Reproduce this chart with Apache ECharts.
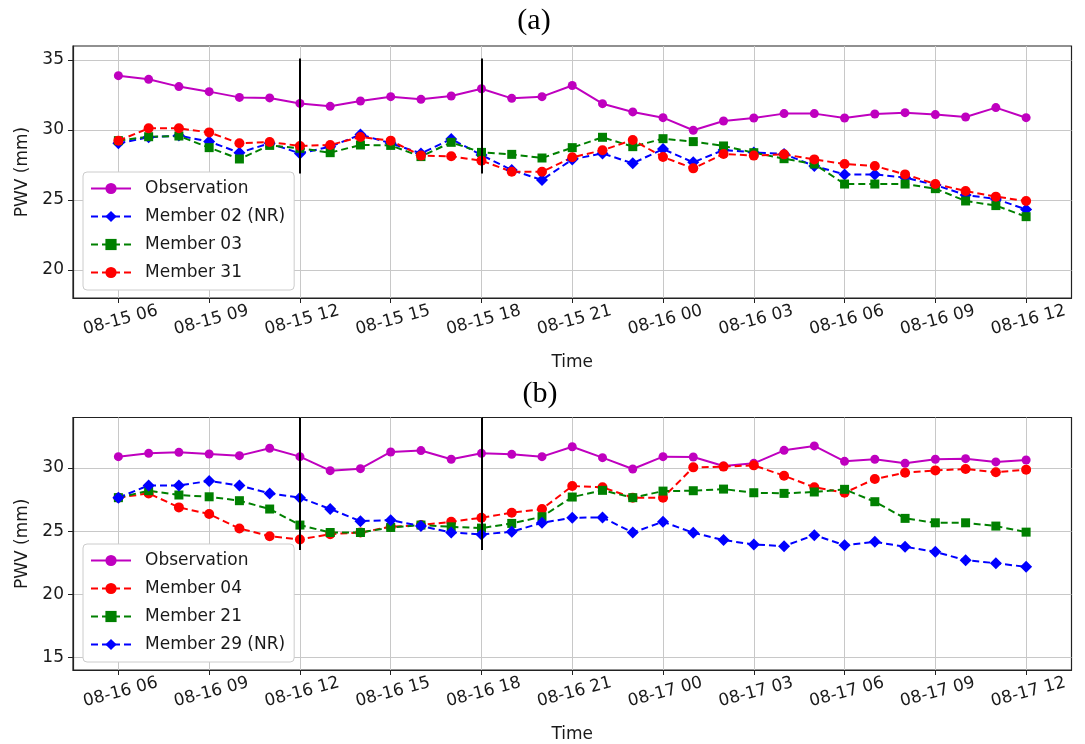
<!DOCTYPE html>
<html>
<head>
<meta charset="utf-8">
<title>PWV time series</title>
<script src="https://cdn.jsdelivr.net/npm/echarts@6/dist/echarts.min.js"></script>
<style>
  html, body { margin: 0; padding: 0; background: #ffffff; }
  #chart { width: 1085px; height: 744px; }
</style>
</head>
<body>
<div id="chart"></div>
<script>
// Hours since the first sample of each panel (hourly samples)
const hours = [0, 1, 2, 3, 4, 5, 6, 7, 8, 9, 10, 11, 12, 13, 14, 15,
               16, 17, 18, 19, 20, 21, 22, 23, 24, 25, 26, 27, 28, 29, 30];

// Tick positions (hours) and their labels
const tickHours = [0, 3, 6, 9, 12, 15, 18, 21, 24, 27, 30];
const tickLabelsA = ['08-15 06', '08-15 09', '08-15 12', '08-15 15', '08-15 18', '08-15 21',
                     '08-16 00', '08-16 03', '08-16 06', '08-16 09', '08-16 12'];
const tickLabelsB = ['08-16 06', '08-16 09', '08-16 12', '08-16 15', '08-16 18', '08-16 21',
                     '08-17 00', '08-17 03', '08-17 06', '08-17 09', '08-17 12'];
const yTicksA = [20, 25, 30, 35];
const yTicksB = [15, 20, 25, 30];

// Panel (a): PWV (mm)
const obsA = [33.88, 33.62, 33.10, 32.74, 32.33, 32.29, 31.90, 31.69, 32.07, 32.38, 32.19,
              32.43, 32.95, 32.26, 32.38, 33.18, 31.88, 31.29, 30.88, 29.98, 30.64, 30.86,
              31.17, 31.17, 30.86, 31.14, 31.24, 31.10, 30.93, 31.60, 30.88];
const mem02A = [29.05, 29.48, 29.60, 29.17, 28.38, 29.05, 28.33, 28.81, 29.67, 29.05, 28.33,
                29.36, 28.21, 27.14, 26.43, 27.90, 28.33, 27.62, 28.64, 27.69, 28.57, 28.40,
                28.29, 27.43, 26.83, 26.83, 26.60, 26.07, 25.36, 25.07, 24.33];
const mem03A = [29.24, 29.52, 29.57, 28.74, 27.93, 28.90, 28.69, 28.38, 28.93, 28.90, 28.10,
                29.12, 28.40, 28.26, 28.00, 28.74, 29.48, 28.81, 29.38, 29.17, 28.86, 28.38,
                27.95, 27.57, 26.14, 26.14, 26.14, 25.81, 24.93, 24.60, 23.81];
const mem31A = [29.24, 30.12, 30.12, 29.83, 29.05, 29.14, 28.86, 28.93, 29.50, 29.24, 28.17,
                28.12, 27.81, 27.02, 27.02, 28.05, 28.55, 29.29, 28.07, 27.26, 28.29, 28.17,
                28.26, 27.90, 27.57, 27.43, 26.83, 26.14, 25.64, 25.24, 24.93];

// Panel (b): PWV (mm)
const obsB = [30.90, 31.16, 31.24, 31.11, 30.98, 31.56, 30.90, 29.79, 29.95, 31.27, 31.38,
              30.69, 31.16, 31.08, 30.90, 31.68, 30.82, 29.92, 30.90, 30.87, 30.16, 30.37,
              31.40, 31.75, 30.53, 30.69, 30.37, 30.69, 30.74, 30.48, 30.63];
const mem04B = [27.65, 27.99, 26.88, 26.35, 25.21, 24.60, 24.34, 24.76, 24.89, 25.34, 25.48,
                25.74, 26.06, 26.46, 26.75, 28.57, 28.47, 27.65, 27.65, 30.05, 30.11, 30.21,
                29.39, 28.47, 28.04, 29.13, 29.63, 29.81, 29.92, 29.66, 29.87];
const mem21B = [27.65, 28.20, 27.86, 27.72, 27.41, 26.75, 25.48, 24.89, 24.89, 25.29, 25.48,
                25.34, 25.24, 25.61, 26.14, 27.70, 28.23, 27.65, 28.17, 28.20, 28.33, 28.04,
                27.99, 28.10, 28.31, 27.33, 26.01, 25.66, 25.66, 25.40, 24.92];
const mem29B = [27.65, 28.62, 28.62, 28.97, 28.62, 27.99, 27.65, 26.75, 25.79, 25.87, 25.40,
                24.89, 24.74, 24.95, 25.66, 26.06, 26.08, 24.89, 25.74, 24.87, 24.29, 23.94,
                23.81, 24.68, 23.89, 24.15, 23.76, 23.36, 22.70, 22.46, 22.17];

// Vertical marker lines: hour positions and their vertical extent (mm)
const markHours = [6, 12];
const markSpanA = [26.9, 35.1];
const markSpanB = [23.5, 34];

const FONT = 'DejaVu Sans';
const TXT = '#1a1a1a';

const styles = {
  obs:   { color: '#bf00bf', symbol: 'circle',  size: 9,  dash: 'solid' },
  red:   { color: '#ff0000', symbol: 'circle',  size: 10, dash: [7, 4] },
  green: { color: '#008000', symbol: 'rect',    size: 9,  dash: [7, 4] },
  blue:  { color: '#0000ff', symbol: 'diamond', size: 12, dash: [7, 4] }
};

function lineSeries(name, values, st, idx) {
  return {
    name: name,
    type: 'line',
    xAxisIndex: idx,
    yAxisIndex: idx,
    data: values.map((v, i) => [hours[i], v]),
    symbol: st.symbol,
    symbolSize: st.size,
    showSymbol: true,
    itemStyle: { color: st.color, borderWidth: 0 },
    lineStyle: { color: st.color, width: 2, type: st.dash },
    emphasis: { disabled: true },
    animation: false
  };
}

function markerSeries(idx, span) {
  return {
    type: 'line',
    xAxisIndex: idx,
    yAxisIndex: idx,
    data: [],
    silent: true,
    animation: false,
    markLine: {
      silent: true,
      symbol: ['none', 'none'],
      label: { show: false },
      lineStyle: { color: '#000000', width: 2, type: 'solid' },
      data: markHours.map(h => [{ coord: [h, span[0]] }, { coord: [h, span[1]] }])
    }
  };
}

function xAxis(idx, labels) {
  return {
    type: 'value',
    gridIndex: idx,
    min: -1.5,
    max: 31.5,
    name: 'Time',
    nameLocation: 'middle',
    nameGap: 56,
    nameTextStyle: { fontFamily: FONT, fontSize: 17, color: TXT },
    axisLine: { show: true, onZero: false, lineStyle: { color: '#222', width: 1.2 } },
    axisTick: { show: true, customValues: tickHours, length: 5, lineStyle: { color: '#222' } },
    axisLabel: {
      customValues: tickHours,
      formatter: v => labels[tickHours.indexOf(v)] || '',
      rotate: 15,
      align: 'center',
      verticalAlign: 'top',
      margin: 14,
      fontFamily: FONT,
      fontSize: 17,
      color: TXT
    },
    splitLine: { show: true, lineStyle: { color: '#c8c8c8', width: 1 } }
  };
}

function yAxis(idx, min, max, ticks) {
  return {
    type: 'value',
    gridIndex: idx,
    min: min,
    max: max,
    name: 'PWV (mm)',
    nameLocation: 'middle',
    nameGap: 37,
    nameTextStyle: { fontFamily: FONT, fontSize: 17, color: TXT },
    axisLine: { show: true, onZero: false, lineStyle: { color: '#222', width: 1.2 } },
    axisTick: { show: true, customValues: ticks, length: 5, lineStyle: { color: '#222' } },
    axisLabel: { customValues: ticks, margin: 9, fontFamily: FONT, fontSize: 17, color: TXT },
    splitLine: { show: true, lineStyle: { color: '#c8c8c8', width: 1 } }
  };
}

function legend(top, names) {
  return {
    orient: 'vertical',
    left: 83,
    top: top,
    data: names,
    itemWidth: 40,
    itemHeight: 14,
    itemGap: 11,
    padding: [8, 9, 9, 7],
    backgroundColor: '#ffffff',
    borderColor: '#cccccc',
    borderWidth: 1,
    borderRadius: 4,
    selectedMode: false,
    textStyle: { fontFamily: FONT, fontSize: 17, color: TXT, padding: [0, 0, 0, 9] }
  };
}

const chart = echarts.init(document.getElementById('chart'), null, { renderer: 'canvas' });

chart.setOption({
  backgroundColor: '#ffffff',
  animation: false,
  graphic: [
    { type: 'text', x: 534, y: 21, z: 10,
      style: { text: '(a)', font: '30px "Liberation Serif"', fill: '#000',
               align: 'center', verticalAlign: 'middle',
               textAlign: 'center', textVerticalAlign: 'middle' } },
    { type: 'text', x: 540, y: 394, z: 10,
      style: { text: '(b)', font: '30px "Liberation Serif"', fill: '#000',
               align: 'center', verticalAlign: 'middle',
               textAlign: 'center', textVerticalAlign: 'middle' } }
  ],
  grid: [
    { left: 73, right: 13.5, top: 46, height: 252, show: true, borderColor: '#222', borderWidth: 1.2, backgroundColor: '#fff' },
    { left: 73, right: 13.5, top: 417.5, height: 252.5, show: true, borderColor: '#222', borderWidth: 1.2, backgroundColor: '#fff' }
  ],
  xAxis: [xAxis(0, tickLabelsA), xAxis(1, tickLabelsB)],
  yAxis: [yAxis(0, 18, 36, yTicksA), yAxis(1, 14, 34, yTicksB)],
  legend: [
    legend(172, ['Observation', 'Member 02 (NR)', 'Member 03', 'Member 31']),
    legend(544, ['Observation', 'Member 04', 'Member 21', 'Member 29 (NR)'])
  ],
  series: [
    markerSeries(0, markSpanA),
    lineSeries('Observation', obsA, styles.obs, 0),
    lineSeries('Member 02 (NR)', mem02A, styles.blue, 0),
    lineSeries('Member 03', mem03A, styles.green, 0),
    lineSeries('Member 31', mem31A, styles.red, 0),
    markerSeries(1, markSpanB),
    lineSeries('Observation', obsB, styles.obs, 1),
    lineSeries('Member 04', mem04B, styles.red, 1),
    lineSeries('Member 21', mem21B, styles.green, 1),
    lineSeries('Member 29 (NR)', mem29B, styles.blue, 1)
  ]
});
</script>
</body>
</html>
